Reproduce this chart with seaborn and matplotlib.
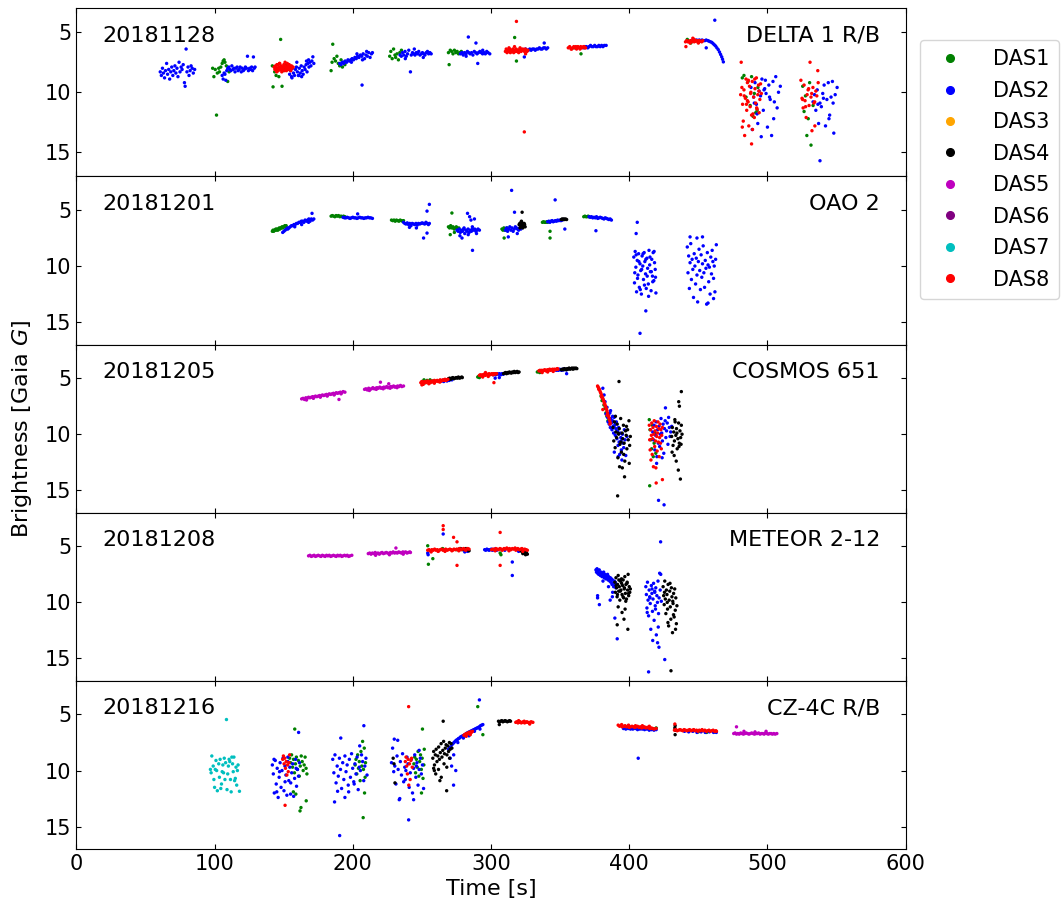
import matplotlib
matplotlib.use("Agg")
import matplotlib.pyplot as plt
import seaborn as sns
import pandas as pd
from matplotlib.lines import Line2D

# ---------------- labels ----------------
DATES = ["20181128", "20181201", "20181205", "20181208", "20181216"]
OBJECTS = ["DELTA 1 R/B", "OAO 2", "COSMOS 651", "METEOR 2-12", "CZ-4C R/B"]
DAS_NAMES = ["DAS1", "DAS2", "DAS3", "DAS4", "DAS5", "DAS6", "DAS7", "DAS8"]
DAS_COLORS = ["g", "b", "orange", "k", "m", "purple", "c", "r"]
X_TICKS = [0, 100, 200, 300, 400, 500, 600]
Y_TICKS = [5, 10, 15]

# ---------------- panel 1 : 20181128 DELTA 1 R/B ----------------
P1_DAS1_T = [98.6,99.5,100.5,101.4,102,103,103.5,104.5,105.5,106.2,106.9,107.5,108.5,109.5,110.5,
             141.8,142.3,143.5,144.5,145.5,146.5,147.8,148.8,149.5,150.5,152,153,
             184.3,185,185.5,186.5,187.5,188.5,189.5,190.5,191.5,192.5,193.5,194.3,
             226.7,227.5,228.5,229.5,230.5,231,232,233,234,235.2,
             269.2,269.7,270.5,271.5,272.5,273.5,274.5,275.5,276.5,277.5,278.5,279.2,
             317.1,318.4,316,321, 365.1,360, 442,444.5,447,450,452.5,
             481.8,483,484.5,486,487.5,488.5,489.5,490.5,491.5,492.5,493.1,
             525.5,526.5,527.5,528.5,529.5,530.5,531.5,533]
P1_DAS1_M = [8.0,8.7,8.1,11.9,8.4,8.0,8.3,7.9,7.6,7.4,7.3,7.5,7.8,9.1,8.3,
             7.8,9.55,8.3,8.6,8.0,8.7,5.6,9.5,8.2,8.0,7.7,8.1,
             8.2,7.5,6.0,7.2,7.4,7.0,7.6,7.8,7.3,7.9,7.5,7.7,
             7.0,6.6,7.2,6.4,6.9,7.1,6.8,7.3,6.7,6.5,
             6.7,7.7,6.5,6.6,6.8,6.5,6.7,6.6,6.8,6.7,6.6,6.7,
             5.44,7.4,6.5,6.4, 6.8,6.3, 5.6,5.9,5.7,5.85,5.75,
             8.8,8.6,10.4,9.1,11.1,8.7,12.0,10.1,11.7,11.5,9.6,
             9.5,11.6,10.3,13.6,12.2,9.2,14.4,11.1]

P1_DAS2_T = [60.7,61.5,62.3,63,63.8,64.5,65.3,66,66.8,67.5,68.3,69,69.8,70.5,71.3,72,72.8,73.5,74.3,75,
             75.8,76.5,77.3,78.2,78.7,79.4,80,80.8,81.5,82.3,83,83.8,84.6,85.6,
             105.5,106.2,106.9,107.5,108.1,108.8,109.5,110.3,111,111.8,112.5,113.3,114,114.8,115.5,116.3,
             117,117.8,118.5,119.3,120,120.8,121.5,122.3,123,123.8,124.5,125.3,126,126.8,127.5,128.1,128.7,129.3,
             154.3,155,155.7,156.4,157.1,157.8,158.5,159.2,159.9,160.6,161.3,162,162.7,163.4,164.1,164.8,
             165.5,166.2,166.9,167.6,168.3,169,169.7,170.4,171.1,171.8, 156,159.5,163,166.5,161,168,
             190.5,191.5,192.5,193.5,194.5,195.5,196.5,197.5,198.5,199.5,200.5,201.5,202.5,203.5,204.5,
             205.5,206.5,207.5,208.5,209.5,210.5,211.5,212.5,213.5,214.2, 199,203,207,210, 206.7,
             234.2,235.1,236,236.9,237.8,238.7,239.6,240.5,241.7,242.3,243.2,244.1,245,245.9,246.8,
             247.7,248.6,249.5,250.4,251.3,252.2,253.1,254,254.9,255.8,256.7, 238,244.5,251,
             277.9,278.9,279.9,280.9,281.9,282.9,283.9,284.9,285.9,286.9,287.9,288.9,289.9,290.9,291.9,
             292.9,293.9,294.9,295.9,296.9,297.9,299.1, 283.6,289.1,290.4,282,294,
             324.1,325,326,327,328,329,330,331,332,333,334,335,336,337,338,338.5,339,340,341, 324.1,
             367.1,368,369,370,371,372,373,374,375,376,377,378,379,380,381,382,383.3,
             445.7,446.7,447.7,448.7,449.7,450.7,451.7,452.7,453.7,454.7,455.7,456.9,457.8,458.8,459.8,
             460.7,461.6,462.5,463.4,464.4,465.3,466.1,466.9,467.5,468.1, 461.9,455.7,
             488.1,489,490,491,492,493,494,495,496,497,498,499,500,501,502,503,504,505,506,507,508,509.3,
             492.5,495.5,498.5,501.5,504.5, 490.5,497.5,
             533,534,535,536,537,538,538,539,540,541,542,543,544,545,546,547,548,549,550.4,
             536.5,540.5,544.5,547.5]
P1_DAS2_M = [8.3,8.6,8.0,8.4,8.8,8.2,7.6,8.5,8.1,8.9,8.3,7.9,8.6,8.2,7.8,8.4,8.0,8.7,7.5,8.3,
             7.9,8.1,7.7,9.2,9.5,6.4,8.3,7.9,8.6,8.2,7.8,8.0,8.4,8.1,
             8.6,8.9,8.4,8.5,9.0,8.2,8.0,7.9,8.1,8.2,7.8,8.1,8.0,8.3,8.0,7.9,
             8.2,8.1,7.9,8.3,8.0,8.2,8.1,7.9,8.0,7.0,8.2,8.0,8.1,7.9,8.2,7.06,8.0,7.9,
             8.5,8.2,8.7,8.0,8.4,8.6,8.1,7.9,8.3,8.6,8.0,8.4,7.8,8.2,8.5,7.9,
             8.1,7.7,8.3,7.6,7.9,7.5,7.8,7.4,7.05,7.6, 8.8,7.5,8.7,7.4,8.6,7.3,
             7.6,7.7,7.5,7.6,7.4,7.5,7.3,7.4,7.3,7.2,7.3,7.1,7.2,7.0,7.1,
             6.9,7.0,6.8,7.2,6.9,7.0,6.7,7.1,6.8,6.7, 7.5,6.8,7.3,6.6, 9.4,
             6.9,7.0,6.7,6.9,6.6,7.0,6.8,6.5,8.3,6.9,6.7,6.8,6.9,6.7,6.8,
             6.6,6.9,6.8,6.7,6.8,6.9,6.7,6.6,6.8,6.7,6.8, 7.2,6.4,7.1,
             6.8,6.7,6.9,6.7,6.8,6.6,6.7,6.8,6.7,6.9,6.6,6.7,6.8,6.7,6.6,
             6.7,6.8,6.7,6.8,6.6,6.7,6.8, 5.4,5.9,7.6,7.0,6.5,
             6.5,6.4,6.5,6.5,6.4,6.5,6.4,6.4,6.5,6.4,6.4,6.3,6.4,6.4,6.3,5.9,6.3,6.4,6.3, 7.06,
             6.3,6.2,6.2,6.3,6.2,6.1,6.2,6.2,6.1,6.2,6.2,6.1,6.2,6.1,6.2,6.1,6.1,
             5.7,5.65,5.7,5.65,5.7,5.65,5.7,5.65,5.7,5.7,5.65,5.7,5.75,5.8,5.85,
             5.95,6.05,6.15,6.3,6.45,6.65,6.85,7.05,7.25,7.47, 4.0,6.3,
             9.6,13.1,10.4,9.2,11.0,12.6,9.9,10.3,8.9,11.5,9.7,10.1,12.9,9.4,10.6,13.6,9.1,10.8,8.7,11.3,10.0,9.5,
             11.8,13.7,9.0,10.4,12.2, 10.9,9.8,
             10.8,10.2,11.5,9.8,12.6,10.9,15.7,11.2,10.1,9.4,12.8,10.6,9.2,11.9,10.4,9.1,13.4,10.2,9.6,
             11.0,10.5,12.2,10.9]

P1_DAS8_T = [143.1,143.6,144.1,144.6,145.1,145.6,146.1,146.6,147.1,147.6,148.1,148.6,149.1,149.6,150.1,
             150.6,151.1,151.6,152.1,152.6,153.1,153.6,154.1,154.6,155.1,155.6,156.1,156.8,
             144,146,148,150,152,154,145,147,149,151,153,155,
             310.4,311,311.6,312.2,312.8,313.4,314,314.6,315.2,315.8,316.4,317,317.6,318.2,318.8,
             319.4,320,320.6,321.2,321.8,322.4,323,323.6,324.2,324.8,325.4,326,326.6, 313,317,321,325, 318.4,324.1,
             355.9,356.9,357.9,358.9,359.9,360.9,361.9,362.9,363.9,364.9,365.9,366.9,367.9,368.4,
             358.4,361.4,364.4,367.4,
             440.7,441.6,442.5,443.4,444.3,445.2,446.1,447,447.9,448.8,449.7,450.6,451.5,452.4,453.2,
             441,444,447,450, 446,
             480.6,481,481.5,482,482.5,483,483.5,484,484.5,485,485.5,486,486.5,487,487.5,488,488.5,489,
             489.5,490,490.5,491,491.5,492,492.5,493,493.5,494,494.5,495,495.6,
             481.8,483.2,484.8,486.2,487.8,489.2,490.8,492.2,493.8,485.5,488.5,
             524.2,525,525.8,526.5,527.2,528,528.7,529.4,530.1,530.8,531.5,532.2,532.9,533.6,534.3,535,535.7,536.4,
             525.4,527.6,529.8,532,534.2,536.7]
P1_DAS8_M = [7.9,8.1,7.8,8.2,7.7,8.0,8.2,7.9,7.6,8.1,7.8,8.3,7.9,8.0,7.7,
             8.2,7.8,8.0,7.9,7.6,8.1,7.8,8.0,7.9,8.2,7.8,8.0,7.9,
             8.0,7.7,8.0,7.9,8.2,7.7,8.3,7.6,8.1,7.5,7.9,8.1,
             6.6,6.4,6.7,6.5,6.6,6.4,6.7,6.5,6.6,6.4,6.7,6.5,6.6,6.4,6.6,
             6.5,6.7,6.5,6.4,6.6,6.5,6.4,6.5,6.6,6.4,6.5,6.6,6.5, 6.3,6.2,6.3,6.8, 4.1,13.3,
             6.3,6.2,6.4,6.3,6.2,6.3,6.4,6.2,6.3,6.2,6.3,6.2,6.3,6.3,
             6.4,6.2,6.4,6.2,
             5.8,5.7,5.8,5.75,5.7,5.8,5.7,5.8,5.75,5.7,5.8,5.7,5.75,5.8,5.7,
             6.2,5.9,5.6,5.9, 5.5,
             10.2,7.5,9.6,11.0,12.4,9.8,13.6,10.5,8.9,11.5,9.2,10.8,12.8,9.5,11.2,10.0,14.3,9.1,
             11.8,10.4,12.1,9.7,10.9,8.8,11.4,10.2,9.4,11.7,10.6,9.3,10.1,
             12.9,10.3,11.0,9.0,10.1,13.1,8.9,11.3,9.9,10.7,11.9,
             9.0,10.5,11.3,9.4,10.7,12.1,10.2,9.8,11.1,7.5,10.4,13.2,9.6,10.9,12.8,9.9,10.3,8.2,
             10.6,11.2,9.7,10.1,10.8,9.2]

# ---------------- panel 2 : 20181201 OAO 2 ----------------
P2_DAS1_T = [141.8,142.3,142.8,143.3,143.8,144.3,144.8,145.3,145.8,146.3,146.8,147.3,147.8,148.3,148.8,
             149.3,149.8,150.3,150.8,151.3,151.8,
             184.3,185.2,186.1,187,187.9,188.8,189.7,190.6,191.5,192.4,193.3,194.3,
             228,228.9,229.8,230.7,231.6,232.5,233.4,234.3,235.2,236.1,236.7,
             269.2,270,270.8,271.7,272.5,273.3,274.1,274.9,275.7,276.7, 271.7,270.5,273.5,
             307.9,308.6,309.3,310,310.7,311.6, 309.5,
             337.2,338,338.8,339.6,340.4,341, 342.7,342.7,
             367.1,367.9,368.7,369.5,370.3,370.9]
P2_DAS1_M = [6.9,6.8,6.9,6.8,6.8,6.7,6.8,6.7,6.8,6.7,6.6,6.7,6.6,6.6,6.5,
             6.6,6.5,6.5,6.4,6.5,6.4,
             5.55,5.5,5.55,5.6,5.5,5.55,5.5,5.6,5.55,5.6,5.55,5.6,
             5.9,5.95,5.9,6.0,5.9,5.95,6.0,5.9,5.95,6.0,5.95,
             6.5,6.6,6.4,6.6,6.5,6.7,6.6,6.5,6.7,6.6, 5.27,7.2,7.0,
             6.7,6.8,6.6,6.8,6.7,6.6, 7.5,
             6.1,6.05,6.1,6.1,6.05,6.1, 6.9,7.5,
             5.6,5.55,5.6,5.6,5.55,5.6]

P2_DAS2_T = [149.3,150.2,151.1,152,152.9,153.8,154.7,155.6,156.5,157.4,158.3,159.2,160.1,161,161.9,
             162.8,163.7,164.6,165.5,166.4,167.3,168.2,169.1,170,170.9,171.8, 170.5, 153,158,163,168,
             193,194,195,196,197,198,199,200,201,202,203,204,205,206,207,208,209,210,211,212,213,214.2, 203.5,
             236.7,237.6,238.5,239.4,240.3,241.2,242.1,243,243.9,244.8,245.7,246.6,247.5,248.4,249.3,
             250.2,251.1,252,252.9,253.8,254.7,255.4, 255.4,253.7,251.2,253.7, 241,246,
             275.4,276.2,277,277.8,278.6,279.4,280.2,281,281.8,282.6,283.4,284.2,285,285.8,286.6,
             287.4,288.2,289,289.8,290.6,291.6, 277.5,280.5,283.5,286.5,289.5, 283,284.5,285.5,286.6, 279,288,
             310.4,311.2,312,312.8,313.6,314.4,315.2,316,316.8,317.6,318.4,319.2,320,320.8,321.6,
             314.9,312.5,317,319,
             341,341.8,342.6,343.4,344.2,345,345.8,346.6,347.4,348.2,349,349.8,350.6,351.4,352.2, 346.4,353.4,
             370.9,371.8,372.7,373.6,374.5,375.4,376.3,377.2,378.1,379,379.9,380.8,381.7,382.6,383.5,
             384.4,385.3,386.2,387.1, 375.9,
             403.3,403.8,404.3,404.8,405.3,405.8,406.3,406.8,407.3,407.8,408.3,408.8,409.3,409.8,410.3,
             410.8,411.3,411.8,412.3,412.8,413.3,413.8,414.3,414.8,415.3,415.8,416.3,416.8,417.3,417.8,
             418.3,418.8,419.3,
             404,405,406,407,408,409,410,411,412,413,414,415,416,417,418,419, 405.8,405,412,407.8,
             442,442.5,443,443.5,444,444.5,445,445.5,446,446.5,447,447.5,448,448.5,449,449.5,450,450.5,
             451,451.5,452,452.5,453,453.5,454,454.5,455,455.5,456,456.5,457,457.5,458,458.5,459,459.5,
             460,460.5,461,461.5,462,462.5,463, 444,449,453,457,461]
P2_DAS2_M = [7.0,6.9,6.8,6.7,6.6,6.6,6.5,6.4,6.4,6.3,6.3,6.2,6.2,6.1,6.1,
             6.0,6.0,6.1,5.9,6.0,5.9,5.8,6.0,5.8,5.9,5.8, 5.3, 6.7,6.5,6.3,6.1,
             5.65,5.7,5.7,5.65,5.7,5.75,5.7,5.65,5.7,5.7,5.75,5.7,5.65,5.7,5.7,5.75,5.7,5.7,5.65,5.7,5.7,5.75, 5.35,
             6.1,6.2,6.25,6.15,6.3,6.2,6.4,6.2,6.25,6.3,6.2,6.35,6.2,6.25,6.2,
             6.15,6.2,6.25,6.1,6.2,6.3,6.2, 4.5,5.1,7.5,7.06, 6.55,6.6,
             6.8,6.9,6.7,7.0,6.8,6.9,6.7,7.1,6.8,6.9,6.7,7.0,6.8,6.9,6.7,
             6.8,6.7,6.9,6.8,6.7,6.8, 7.3,6.6,7.2,6.5,7.1, 5.3,5.6,5.9,8.6, 7.5,5.8,
             6.8,6.6,6.9,6.7,6.5,6.8,6.6,6.9,6.7,6.5,6.6,6.7,6.8,6.6,6.7,
             3.25,7.4,5.2,7.1,
             6.05,6.0,6.1,6.0,5.95,6.05,6.0,5.95,6.0,5.9,5.95,5.9,5.95,5.9,5.85, 4.1,6.7,
             5.6,5.65,5.6,5.7,5.65,5.7,5.6,5.75,5.7,5.65,5.7,5.75,5.8,5.7,5.75,
             5.8,5.85,5.8,5.9, 6.85,
             9.2,11.5,8.7,10.1,12.3,9.5,10.8,8.9,11.9,9.8,10.4,12.5,9.1,10.0,11.2,
             8.8,9.6,10.7,12.0,9.3,10.2,11.6,8.6,9.9,10.5,12.2,9.4,10.9,8.8,11.3,
             9.7,10.3,12.4,
             10.6,9.0,11.1,9.6,12.1,10.3,8.9,11.7,9.4,10.9,12.7,9.2,10.5,11.4,8.7,11.0, 6.1,7.1,14.0,16.0,
             8.3,10.6,9.1,12.0,9.7,8.0,11.2,9.4,10.3,12.8,8.9,10.0,11.6,9.3,10.8,13.2,9.6,8.5,
             10.4,12.1,9.0,11.0,9.8,8.2,10.6,11.9,9.5,10.2,13.4,8.8,9.9,11.4,10.1,12.5,9.2,10.7,
             8.6,9.6,11.1,10.0,12.3,9.4,8.1, 7.4,7.5,7.4,13.3,12.9]

P2_DAS4_T = [320.3,320.8,321.3,321.8,322.3,322.8,323.3,323.8,324.3,324.7, 321,322,323,324, 322.5,
             350.9,351.5,352.1,352.7,353.3,353.9,354.7]
P2_DAS4_M = [6.3,6.2,6.4,6.1,6.3,6.5,6.2,6.4,6.3,6.5, 6.6,6.0,6.6,6.2, 5.2,
             5.85,5.8,5.85,5.8,5.85,5.8,5.85]

# ---------------- panel 3 : 20181205 COSMOS 651 ----------------
P3_DAS1_T = [250.4,251.5,252.6,253.7,254.8,255.9,257,257.9, 290.4,291,291.6, 333.5,334.3,335.2,336,
             379.6,380.3,381,381.7,382.4,383.1,383.8,384.6,
             414.5,415,415.6,416.2,416.8,417.4,418,418.6,419.2,414.8]
P3_DAS1_M = [5.3,5.15,5.4,5.2,5.35,5.15,5.3,5.25, 4.9,4.85,4.95, 4.45,4.4,4.5,4.45,
             6.6,7.0,6.9,7.4,7.7,8.1,8.4,8.8,
             8.7,9.6,10.5,11.3,9.2,12.0,10.8,9.9,11.7,14.6]

P3_DAS2_T = [264.2,265,265.8,266.6,267.4,268.2,269,269.8,270.6,271.7,
             301.6,302.5,303.4,304.3,305.2,306.1,307,307.9,308.8,309.1, 303,306,
             347.2,348,348.8,349.6,350.4,351.2,352,352.8,353.6,354.7, 354.7,
             380.9,381.8,382.5,383.2,383.9,384.3,384.7,385.1,385.5,385.9,386.3,386.7,387.1,387.5,387.9,
             388.3,388.7,389.1,389.5,389.9,390.3,390.7,391.1,391.5,391.9,392.3,392.7,393.1,393.5,393.9,
             394.3,394.7,395.1,395.5,396,396.5,397,397.5,398.3, 386,388,390,392,394,386.5,389.2,
             417,417.5,418,418.5,419,419.5,420,420.5,421,421.5,422,422.5,423,423.5,424,424.5,425,425.5,
             426,426.5,427,427.5,428,428.5,429,429.5,430,430.7, 421.2,425.2,426.2, 419.8,423.8]
P3_DAS2_M = [5.25,5.2,5.3,5.15,5.2,5.25,5.15,5.2,5.1,5.15,
             4.7,4.65,4.7,4.6,4.65,4.6,4.7,4.6,4.65,4.6, 5.0,4.95,
             4.3,4.25,4.3,4.2,4.25,4.3,4.2,4.25,4.2,4.25, 4.6,
             5.9,6.5,7.1,8.2,7.6,8.5,8.9,8.3,9.1,8.7,9.4,8.6,9.0,9.6,8.8,
             9.3,9.9,8.5,9.2,10.1,9.5,8.9,10.4,9.7,11.0,9.4,10.7,11.8,9.9,10.3,
             11.4,12.3,10.0,10.8,11.2,9.6,10.5,11.9,10.2, 8.1,8.4,9.0,12.0,10.6,7.9,11.6,
             9.8,10.5,9.2,11.4,10.1,8.9,12.0,9.6,10.8,9.3,11.1,10.0,8.6,9.9,10.6,9.1,11.7,9.5,
             8.8,10.3,9.7,9.0,10.9,8.5,9.4,10.2,9.8,9.3, 15.9,16.3,7.65, 12.6,12.1]

P3_DAS4_T = [269.2,270,270.8,271.6,272.4,273.2,274,274.8,275.6,276.4,277.2,278,278.8,279.2,
             309.1,309.8,310.5,311.2,311.9,312.6,313.3,314,314.7,315.4,316.1,316.8,317.5,318.2,318.9,319.6,320.3,
             350.9,351.6,352.3,353,353.7,354.4,355.1,355.8,356.5,357.2,357.9,358.6,359.3,360,360.7,361.4,362.1,
             388.3,388.8,389.3,389.8,390.3,390.8,391.3,391.8,392.3,392.8,393.3,393.8,394.3,394.8,395.3,
             395.8,396.3,396.8,397.3,397.8,398.3,398.8,399.3,399.8,400.3,400.8,
             390,392,394,396,398,400, 392.6,391.6,396.6, 393,395,
             430.7,431.2,431.7,432.2,432.7,433.2,433.7,434.2,434.7,435.2,435.7,436.2,436.7,437.2,437.7,438.2,
             431,432.5,434,435.5,437, 437.7,435.8,436.3, 433,434.5,436,437.5]
P3_DAS4_M = [5.05,5.0,5.1,5.0,4.95,5.05,5.0,4.95,5.0,4.9,5.0,4.95,4.9,4.95,
             4.6,4.55,4.5,4.6,4.5,4.55,4.45,4.5,4.55,4.45,4.5,4.4,4.5,4.45,4.4,4.5,4.45,
             4.25,4.2,4.25,4.15,4.2,4.25,4.15,4.2,4.1,4.2,4.15,4.1,4.2,4.1,4.15,4.1,4.15,
             9.4,10.6,8.9,11.2,9.8,10.3,9.1,12.1,10.0,9.5,10.9,8.6,11.6,9.9,10.4,
             9.2,10.8,12.4,9.7,10.1,11.3,9.6,10.5,8.8,11.0,10.2,
             8.4,9.9,10.7,11.8,9.3,12.6, 5.3,15.5,13.8, 12.9,13.0,
             10.2,9.4,11.0,9.8,10.6,8.9,10.1,9.5,11.3,10.4,9.0,10.8,9.7,10.3,9.2,10.0,
             11.6,11.9,12.4,13.2,14.0, 6.2,7.1,7.5, 8.7,9.9,11.1,10.9]

P3_DAS5_T = [163,164,165,166,167,168,169,170,171,172,173,174,175,176,177,178,179,180,181,182,
             183,184,185,186,187,188,189,190,191,192,193,194.3, 166.5,171.5,176.5,181.5,186.5,191.5, 190,
             208.5,209.5,210.5,211.5,212.5,213.5,214.5,215.5,216.5,217.5,218.5,219.5,220.5,221.5,
             222.5,223.5,224.5,225.5,226.5,227.5,228.5,229.5,230.5,231.5,232.5,233.5,234.5,235.5,236.7,
             212,217,222,227,232, 220, 226]
P3_DAS5_M = [6.85,6.8,6.9,6.75,6.8,6.7,6.75,6.7,6.65,6.7,6.6,6.65,6.6,6.55,6.6,6.5,6.55,6.5,6.45,6.5,
             6.4,6.45,6.4,6.35,6.4,6.3,6.35,6.3,6.25,6.3,6.2,6.25, 6.95,6.8,6.7,6.6,6.5,6.4, 6.9,
             6.0,5.95,6.05,5.9,6.0,5.95,5.85,5.95,5.9,5.85,5.9,5.8,5.9,5.85,
             5.8,5.85,5.75,5.85,5.8,5.75,5.8,5.7,5.8,5.75,5.7,5.75,5.65,5.75,5.7,
             6.1,6.0,5.95,5.9,5.85, 5.36, 5.5]

P3_DAS8_T = [249.2,249.9,250.6,251.3,252,252.7,253.4,254.1,254.8,255.5,256.2,256.9,257.6,258.3,259,
             259.7,260.4,261.1,261.8,262.5,263.2,263.9,264.6,265.3,266,266.7,267.4,268.1,268.8,
             251,255,259,263, 250,
             291.6,292.3,293,293.7,294.4,295.1,295.8,296.5,297.2,297.9,298.6,299.3,300,300.7,301.4,
             302.1,302.8,303.5,304.1, 294,298,302.1, 296,
             334.7,335.4,336.1,336.8,337.5,338.2,338.9,339.6,340.3,341,341.7,342.4,343.1,343.8,344.5,
             345.2,345.9,346.6,347.3,348,348.4, 337,341,345,
             377.1,377.5,377.9,378.3,378.7,379.1,379.5,379.9,380.3,380.7,381.1,381.5,381.9,382.3,382.7,
             383.1,383.5,383.9,384.3,384.7,385.1,385.5,385.9,386.3, 378,380,382,384,386,380.9,
             414.5,414.8,415.1,415.4,415.7,416,416.3,416.6,416.9,417.2,417.5,417.8,418.1,418.4,418.7,
             419,419.3,419.6,419.9,420.2,420.5,420.8,421.1,421.4,421.7,422,422.3,422.6,422.9,423.2,
             423.5,424, 419.5,424]
P3_DAS8_M = [5.4,5.3,5.45,5.35,5.3,5.4,5.35,5.25,5.35,5.3,5.4,5.25,5.3,5.35,5.2,
             5.3,5.25,5.2,5.3,5.25,5.15,5.25,5.2,5.15,5.2,5.1,5.2,5.15,5.1,
             5.55,5.5,5.45,5.35, 5.6,
             4.75,4.7,4.8,4.7,4.75,4.65,4.75,4.7,4.65,4.7,4.6,4.7,4.65,4.6,4.7,
             4.6,4.65,4.6,4.6, 4.9,4.85,5.4, 4.5,
             4.35,4.3,4.4,4.3,4.35,4.3,4.25,4.35,4.3,4.25,4.3,4.2,4.3,4.25,4.2,
             4.25,4.2,4.25,4.2,4.15,4.2, 4.5,4.45,4.4,
             5.7,5.8,5.9,6.0,6.1,6.25,6.35,6.5,6.6,6.75,6.9,7.0,7.15,7.3,7.45,
             7.6,7.75,7.9,8.1,8.3,8.45,8.6,8.8,9.0, 6.0,6.7,7.3,8.3,9.1,7.8,
             9.2,10.5,11.4,9.6,12.3,10.1,9.0,11.8,10.4,9.4,12.9,10.0,8.8,11.1,9.7,
             10.6,13.0,9.3,10.2,11.5,9.9,8.9,10.7,9.5,12.0,10.3,9.1,10.8,9.6,11.3,
             10.1,9.4, 14.35,14.05]

# ---------------- panel 4 : 20181208 METEOR 2-12 ----------------
P4_DAS1_T = [254.2,254.7,257.9,265,275, 306.6,307.2]
P4_DAS1_M = [4.95,6.6,6.1,5.2,5.3, 5.6,5.75]

P4_DAS2_T = [254.2,254.5,265.4,281,283,
             295.4,296.2,297,297.8,298.6,299.4,300.2,301,301.8,302.6,303.4,304.1, 315.4,315.4,310,320,
             375.9,376.3,376.7,377.1,377.5,377.9,378.3,378.7,379.1,379.5,379.9,380.3,380.7,381.1,381.5,
             381.9,382.3,382.7,383.1,383.5,383.9,384.3,384.7,385.1,385.5,385.9,386.3,386.7,387.1,387.5,
             387.9,388.3,388.7,389.1,389.5,389.9,390.3,390.8, 377.1,377.1,378.4,391.3,389.6, 381,385,388, 387.8,386.2,
             412,412.4,412.8,413.2,413.6,414,414.4,414.8,415.2,415.6,416,416.4,416.8,417.2,417.6,
             418,418.4,418.8,419.2,419.6,420,420.4,420.8,421.2,421.6,422,422.4,422.8,423.2,
             413,415,417,419,421, 422.7,414,425.7,421.5, 416.5,418.5,420.5]
P4_DAS2_M = [5.6,5.75,3.9,5.5,5.45,
             5.3,5.35,5.25,5.3,5.35,5.3,5.25,5.35,5.3,5.25,5.3,5.35, 6.4,7.6,5.35,5.45,
             7.1,7.3,7.0,7.4,7.2,7.5,7.1,7.4,7.6,7.3,7.5,7.7,7.4,7.6,7.3,
             7.8,7.5,7.7,7.9,7.6,7.8,7.5,8.0,7.7,7.9,8.1,7.8,8.2,7.9,8.4,
             8.0,8.3,8.6,8.1,8.5,8.2,8.7,8.4, 9.4,9.6,10.2,13.25,11.4, 8.1,8.6,9.1, 9.5,9.8,
             8.6,9.3,10.5,8.2,9.8,11.2,8.9,9.5,10.1,12.4,8.5,9.2,10.8,9.7,8.3,
             11.6,9.0,10.3,8.7,12.9,9.4,10.0,8.1,11.0,9.6,7.4,8.9,7.5,9.9,
             10.9,9.6,13.4,10.6,12.2, 4.6,16.2,15.1,14.0, 8.8,9.1,13.6]

P4_DAS4_T = [276.7,278,279.3,280.6,281.9,283.2,284.1,
             321.6,322.6,323.6,324.6,325.6,326.3,323,325,
             389.6,390,390.4,390.8,391.2,391.6,392,392.4,392.8,393.2,393.6,394,394.4,394.8,395.2,
             395.6,396,396.4,396.8,397.2,397.6,398,398.4,398.8,399.2,399.6,400,400.4,400.8,
             390.5,391.5,392.5,393.5,394.5,395.5,396.5,397.5,398.5,399.5, 392,394.8,396.2,397,399, 391.3,
             424.5,424.9,425.3,425.7,426.1,426.5,426.9,427.3,427.7,428.1,428.5,428.9,429.3,429.7,430.1,
             430.5,430.9,431.3,431.7,432.1,432.5,432.9,433.3,433.7,434.1,434.5,
             425.5,427.5,429.5,431.5,433.5, 430.2, 428,432]
P4_DAS4_M = [5.25,5.2,5.3,5.25,5.2,5.3,5.4,
             5.4,5.5,5.45,5.6,5.55,5.7,5.65,5.75,
             8.2,9.1,7.8,8.7,9.5,8.4,7.6,9.0,8.6,9.8,8.1,8.9,7.9,9.3,8.5,
             8.0,9.6,8.8,7.7,9.2,8.4,9.7,8.3,8.9,7.5,9.4,8.6,9.1,8.8,
             8.5,9.3,8.0,9.0,8.3,9.5,8.7,9.9,8.2,9.2, 10.4,10.9,11.5,10.6,12.4, 12.0,
             8.6,9.4,10.2,8.1,9.7,11.0,8.9,9.3,10.6,8.4,12.1,9.8,9.0,10.4,11.5,
             8.7,9.5,12.7,10.1,9.2,11.3,8.8,10.7,9.6,11.9,10.3,
             9.1,10.0,8.3,9.9,12.4, 16.1, 11.8,11.1]

P4_DAS5_T = [168,169,170,171,172,173,174,175,176,177,178,179,180,181,182,183,184,185,186,187,
             188,189,190,191,192,193,194,195,196,197,198,199.3,
             211.2,212.2,213.2,214.2,215.2,216.2,217.2,218.2,219.2,220.2,221.2,222.2,223.2,224.2,225.2,
             226.2,227.2,228.2,229.2,230.2,231.2,232.2,233.2,234.2,235.2,236.2,237.2,238.2,239.2,240.2,
             241.2,241.7, 231.2, 216.5,226.5,236.5]
P4_DAS5_M = [5.85,5.8,5.9,5.85,5.8,5.9,5.85,5.8,5.85,5.9,5.8,5.85,5.9,5.8,5.85,5.8,5.9,5.85,5.8,5.85,
             5.9,5.8,5.85,5.8,5.9,5.85,5.8,5.85,5.8,5.9,5.85,5.8,
             5.65,5.6,5.7,5.6,5.65,5.55,5.65,5.6,5.7,5.6,5.55,5.65,5.6,5.55,5.6,
             5.65,5.55,5.6,5.5,5.6,5.55,5.6,5.5,5.55,5.6,5.5,5.55,5.5,5.6,5.55,
             5.5,5.55, 5.15, 5.8,5.75,5.7]

P4_DAS8_T = [254.2,255.2,256.2,257.2,258.2,259.2,260.2,261.2,262.2,263.2,264.2,265.2,266.2,267.2,268.2,
             269.2,270.2,271.2,272.2,273.2,274.2,275.2,276.2,277.2,278.2,279.2,280.2,281.2,282.2,283.2,284.1,
             256.7,261.7,266.7,271.7,276.7,281.7, 265.4,265.4,272.9,275.4,275.4,
             300.4,301.4,302.4,303.4,304.4,305.4,306.4,307.4,308.4,309.4,310.4,311.4,312.4,313.4,314.4,
             315.4,316.4,317.4,318.4,319.4,320.4,321.4,322.4,323.4,324.4,325.4,326.3,
             303,308,313,318,323, 306.6,306.6]
P4_DAS8_M = [5.35,5.3,5.4,5.3,5.35,5.25,5.35,5.3,5.4,5.3,5.25,5.35,5.3,5.25,5.35,
             5.3,5.25,5.3,5.35,5.25,5.3,5.25,5.3,5.2,5.3,5.25,5.2,5.3,5.25,5.2,5.25,
             5.5,5.45,5.45,5.4,5.4,5.35, 3.16,3.5,4.2,4.6,6.7,
             5.3,5.25,5.3,5.2,5.25,5.3,5.2,5.25,5.3,5.2,5.25,5.15,5.25,5.2,5.3,
             5.2,5.25,5.15,5.25,5.2,5.3,5.25,5.2,5.3,5.25,5.3,5.35,
             5.4,5.35,5.4,5.35,5.45, 3.76,6.7]

# ---------------- panel 5 : 20181216 CZ-4C R/B ----------------
P5_DAS1_T = [154.3,155,155.7,156.4,157.1,157.8,158.5,159.2,159.9,160.6,161.3,162,162.7,163.4,164.1,
             164.8,165.5,166.2,166.8, 158,161.8,166.3,162.5, 157,158.8,
             201.7,202.3,202.9,203.5,204.1,204.7,205.3,205.9,206.5,207.1,207.7,208.3,208.9,209.2, 207.5,208.5,
             244.2,244.8,245.4,246,246.6,247.2,247.8,248.4,249,249.6,250.2,250.8,251.4,251.7, 250.4,249.7,
             290.4,294.1, 418,419.5, 450,456,462]
P5_DAS1_M = [8.9,9.3,8.6,9.7,9.0,10.2,9.4,8.8,9.9,9.1,10.5,9.6,8.7,9.2,10.0,
             9.5,8.8,9.8,10.3, 6.3,13.6,12.7,13.3, 11.9,12.1,
             9.5,9.0,10.3,8.6,9.8,9.2,10.9,8.3,9.6,7.4,9.9,8.0,10.6,9.3, 14.2,12.0,
             9.4,8.8,10.2,9.0,9.7,8.3,10.5,9.2,8.6,9.9,8.9,10.7,9.5,8.1, 6.3,12.0,
             4.3,6.8, 6.3,6.2, 6.55,6.6,6.55]

P5_DAS2_T = [141.8,142.5,143.2,143.9,144.6,145.3,146,146.7,147.4,148.1,148.8,149.5,150.2,150.9,151.6,
             152.3,153,153.7,154.4,155.1,155.8,156.5,157.2,157.9,158.6,159.3,160,160.7,161.4,
             143,147,151,155,159, 160.8, 145,153,
             185.5,186.3,187.1,187.9,188.7,189.5,190.3,191.1,191.9,192.7,193.5,194.3,195.1,195.9,196.7,
             197.5,198.3,199.1,199.9,200.7,201.5,202.3,203.1,203.9,204.7,205.5,206.3,207.1,207.9,208.7,
             209.5,210.3, 191.3,186.8,190.5,194.3,208, 189,197,201,205,
             228,228.8,229.6,230.4,231.2,232,232.8,233.6,234.4,235.2,236,236.8,237.6,238.4,239.2,
             240,240.8,241.6,242.4,243.2,244,244.8,245.6,246.4,247.2,248,248.8,249.6,250.4,251.2,
             240.4, 230,234,238,244,248, 232.5,246,
             269.2,270,270.8,271.6,272.4,273.2,274,274.8,275.6,276.4,277.2,278,278.8,279.6,280.4,
             281.2,282,282.8,283.6,284.4,285.2,286,286.8,287.6,288.4,289.2,290,290.8,291.6,292.4,
             293.2,294.1, 270.5,271.5,273,274.5, 291.6,272.9, 276,280,284,288,292,
             395.8,397.5,399.2,400.9,402.6,404.3,406,407.7,409.4,411.1,412.8,414.5,416.2,417.9,419.5, 406.5,
             440,443,446,449,452,455,458,461,463]
P5_DAS2_M = [9.5,10.3,12.0,9.1,11.2,9.8,12.4,10.6,9.3,11.5,10.0,8.9,11.8,9.6,10.4,
             12.2,9.2,10.9,9.7,11.1,10.2,9.4,12.3,10.7,9.0,11.4,9.9,10.5,9.3,
             9.0,10.1,11.0,12.1,9.8, 6.6, 11.9,8.8,
             9.0,10.2,8.6,11.1,9.6,10.5,8.9,9.9,11.6,9.3,10.8,8.7,10.1,9.5,11.3,
             9.0,10.6,8.5,9.8,11.0,9.4,10.3,8.8,11.7,9.7,10.0,8.6,9.2,10.9,9.6,
             8.9,10.4, 7.1,12.8,15.8,12.4,6.0, 11.85,11.9,11.2,7.8,
             9.3,8.0,10.1,9.6,11.2,8.7,9.9,12.6,9.2,10.4,8.5,11.0,9.7,10.0,8.8,
             9.4,11.5,10.2,9.0,12.0,9.8,8.6,10.6,9.3,11.3,9.9,8.9,10.3,9.5,11.6,
             14.4, 7.2,12.5,10.8,12.6,8.2, 7.3,9.6,
             8.1,8.0,7.9,7.7,7.6,7.5,7.4,7.3,7.25,7.15,7.1,7.0,6.95,6.9,6.85,
             6.8,6.7,6.65,6.6,6.55,6.5,6.45,6.4,6.35,6.3,6.25,6.2,6.15,6.1,6.0,
             5.95,5.9, 8.9,9.6,8.6,10.0, 3.7,11.3, 7.5,7.1,6.9,6.5,6.3,
             6.25,6.3,6.25,6.3,6.3,6.25,6.35,6.3,6.3,6.35,6.3,6.4,6.35,6.4,6.35, 8.9,
             6.5,6.55,6.5,6.6,6.55,6.6,6.55,6.6,6.6]

P5_DAS4_T = [229.2,230.5,229.8,
             257.9,258.5,259.1,259.7,260.3,260.9,261.5,262.1,262.7,263.3,263.9,264.5,265.1,265.7,266.3,
             266.9,267.5,268.1,268.7,269.3,269.9,270.5,271.1,271.7,
             258.5,260,262,264,266,268,270, 265.4,267.9, 259,263,
             305.4,306.2,307,307.8,308.6,309.4,310.2,311,311.8,312.6,313.4,314.1, 306,
             433.2,433.2,433.4,433]
P5_DAS4_M = [8.9,11.1,9.4,
             8.9,8.3,9.5,8.6,8.1,9.2,8.7,7.9,9.0,8.4,7.6,8.8,8.2,7.4,8.5,
             8.0,7.7,8.6,7.8,8.3,7.5,8.1,7.6,8.0,
             9.8,10.3,9.9,10.6,9.4,9.7,8.9, 5.6,11.8, 10.0,10.9,
             5.6,5.65,5.6,5.55,5.65,5.6,5.55,5.6,5.65,5.6,5.55,5.6, 5.9,
             6.0,6.8,6.4,6.2]

P5_DAS5_T = [475.6,476.6,477.6,478.6,479.6,480.6,481.6,482.6,483.6,484.6,485.6,486.6,487.6,488.6,489.6,
             490.6,491.6,492.6,493.6,494.6,495.6,496.6,497.6,498.6,499.6,500.6,501.6,502.6,503.6,504.6,
             505.6,506.8, 477.6, 483,491,499]
P5_DAS5_M = [6.7,6.65,6.75,6.7,6.75,6.65,6.7,6.75,6.7,6.65,6.7,6.75,6.7,6.65,6.7,
             6.75,6.7,6.7,6.65,6.75,6.7,6.7,6.75,6.65,6.7,6.75,6.7,6.7,6.75,6.7,
             6.75,6.7, 6.1, 6.5,6.55,6.5]

P5_DAS7_T = [97,97.5,98,99,99.5,100,101,101.5,102,103,103.5,104,105,105.5,106,107,107.5,108,109,109.5,
             110,111,111.5,112,113,113.5,114,115,115.5,116,117,118, 108.6,
             100.5,104.5,110.5,114.5,106.5,112.5,116.5]
P5_DAS7_M = [9.9,10.2,8.7,9.6,10.8,11.5,9.1,10.0,11.8,9.4,10.6,9.0,11.2,10.1,9.5,8.9,10.8,9.3,11.7,10.3,
             9.6,9.2,10.8,11.9,9.4,10.1,8.8,10.7,9.7,11.3,9.5,11.85, 5.45,
             9.9,11.6,9.0,10.9,10.2,8.8,10.0]

P5_DAS8_T = [149.3,149.8,150.3,150.8,151.3,151.8,152.3,152.8,153.3,153.8,154.3, 151,
             238,238.5,239,239.5,240,240.5,241,241.5,242,242.5,243, 240.4,
             280.4,281,281.6,282.2,282.8,283.4,284,284.6,285.2,285.8,286.6, 282,285,
             317.9,318.7,319.5,320.3,321.1,321.9,322.7,323.5,324.3,325.1,325.9,326.7,327.5,328.3,329.1,330.3,
             320,324,328,
             392,393,394,395,396,397,398,399,400,401,402,403,404,405,406,407,408,409,410,411,412,413,414,
             415,416,417,418,419.5, 394.5,399.5,404.5,409.5,414.5,
             432.7,433.7,434.7,435.7,436.7,437.7,438.7,439.7,440.7,441.7,442.7,443.7,444.7,445.7,446.7,
             447.7,448.7,449.7,450.7,451.7,452.7,453.7,454.7,455.7,456.7,457.7,458.7,459.7,460.7,461.7,
             462.7,463.1, 433]
P5_DAS8_M = [9.0,8.7,9.4,8.9,9.8,9.2,10.4,9.5,10.1,9.3,8.6, 13.1,
             9.2,8.8,9.6,10.3,9.0,11.3,9.4,10.8,9.1,8.9,9.7, 4.3,
             6.85,6.8,6.75,6.7,6.75,6.65,6.6,6.65,6.55,6.6,6.5, 6.95,6.8,
             5.7,5.65,5.75,5.7,5.65,5.75,5.7,5.65,5.75,5.7,5.65,5.7,5.75,5.7,5.65,5.7,
             5.55,5.6,5.85,
             5.95,6.05,6.0,6.1,6.05,6.0,6.1,6.05,6.15,6.1,6.05,6.1,6.15,6.1,6.05,6.15,6.1,6.2,6.15,6.1,6.2,6.15,6.2,
             6.25,6.2,6.25,6.3,6.25, 5.9,5.95,6.0,6.0,6.05,
             6.4,6.35,6.45,6.4,6.35,6.4,6.45,6.35,6.4,6.45,6.4,6.35,6.45,6.4,6.35,
             6.45,6.4,6.5,6.4,6.45,6.35,6.45,6.4,6.5,6.45,6.4,6.5,6.45,6.4,6.5,
             6.45,6.5, 5.85]

SERIES = [
    (0, "DAS1", P1_DAS1_T, P1_DAS1_M), (0, "DAS2", P1_DAS2_T, P1_DAS2_M), (0, "DAS8", P1_DAS8_T, P1_DAS8_M),
    (1, "DAS1", P2_DAS1_T, P2_DAS1_M), (1, "DAS2", P2_DAS2_T, P2_DAS2_M), (1, "DAS4", P2_DAS4_T, P2_DAS4_M),
    (2, "DAS1", P3_DAS1_T, P3_DAS1_M), (2, "DAS2", P3_DAS2_T, P3_DAS2_M), (2, "DAS4", P3_DAS4_T, P3_DAS4_M),
    (2, "DAS5", P3_DAS5_T, P3_DAS5_M), (2, "DAS8", P3_DAS8_T, P3_DAS8_M),
    (3, "DAS1", P4_DAS1_T, P4_DAS1_M), (3, "DAS2", P4_DAS2_T, P4_DAS2_M), (3, "DAS4", P4_DAS4_T, P4_DAS4_M),
    (3, "DAS5", P4_DAS5_T, P4_DAS5_M), (3, "DAS8", P4_DAS8_T, P4_DAS8_M),
    (4, "DAS1", P5_DAS1_T, P5_DAS1_M), (4, "DAS2", P5_DAS2_T, P5_DAS2_M), (4, "DAS4", P5_DAS4_T, P5_DAS4_M),
    (4, "DAS5", P5_DAS5_T, P5_DAS5_M), (4, "DAS7", P5_DAS7_T, P5_DAS7_M), (4, "DAS8", P5_DAS8_T, P5_DAS8_M),
]
Y_LIMITS = [(17, 3), (17, 2), (17, 2), (17, 2), (17, 2)]

rows = []
for panel, das, ts, ms in SERIES:
    if len(ts) != len(ms):
        raise ValueError(f"length mismatch panel {panel} {das}: {len(ts)} vs {len(ms)}")
    for t, m in zip(ts, ms):
        rows.append({"panel": panel, "DAS": das, "Time": t, "Mag": m})
df = pd.DataFrame(rows)
df["order"] = df["DAS"].map({n: i for i, n in enumerate(DAS_NAMES)})
df = df.sort_values(["order"], kind="stable")

palette = dict(zip(DAS_NAMES, DAS_COLORS))
plt.rcParams["font.family"] = ["DejaVu Sans"]
plt.rcParams["font.size"] = 15

fig, axes = plt.subplots(5, 1, sharex=True, figsize=(10.62, 9.10), dpi=100)
fig.subplots_adjust(left=0.0719, right=0.8528, bottom=0.067, top=0.991, hspace=0)

for i, ax in enumerate(axes):
    sub = df[df["panel"] == i]
    sns.scatterplot(data=sub, x="Time", y="Mag", hue="DAS", hue_order=DAS_NAMES,
                    palette=palette, s=6, linewidth=0, edgecolor="none",
                    legend=False, ax=ax)
    ax.set_xlim(0, 600)
    ax.set_ylim(*Y_LIMITS[i])
    ax.set_yticks(Y_TICKS)
    ax.set_xticks(X_TICKS)
    ax.set_ylabel("")
    ax.set_xlabel("")
    ax.tick_params(direction="in", top=True, right=True, labelsize=15)
    ax.text(0.031, 0.80, DATES[i], transform=ax.transAxes, ha="left", va="baseline", fontsize=16)
    ax.text(0.969, 0.80, OBJECTS[i], transform=ax.transAxes, ha="right", va="baseline", fontsize=16)

axes[-1].set_xlabel("Time [s]", fontsize=16)
fig.text(0.021, 0.529, "Brightness [Gaia $G$]", rotation=90, ha="center", va="center", fontsize=16)

handles = [Line2D([], [], marker="o", linestyle="", color=c, markersize=5.5) for c in DAS_COLORS]
fig.legend(handles, DAS_NAMES, loc="upper left", bbox_to_anchor=(0.8663, 0.956), borderaxespad=0,
           fontsize=15, handletextpad=1.05, labelspacing=0.55, borderpad=0.45)

fig.savefig("out.png", dpi=100)
